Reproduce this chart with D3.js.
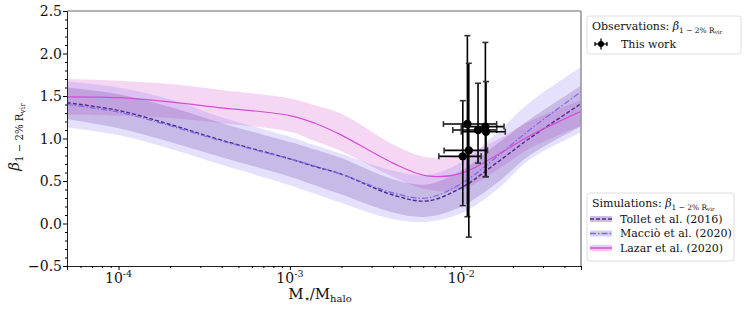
<!DOCTYPE html>
<html><head><meta charset="utf-8">
<script src="https://cdn.jsdelivr.net/npm/d3@7"></script>
<style>body{margin:0;background:#fff} text{font-family:"DejaVu Serif","Liberation Serif",serif;fill:#111}</style>
</head><body><svg id="c" width="747" height="310"></svg>
<script>
// ---- data ----
const gridX = [5e-5,1e-4,2e-4,4e-4,1e-3,1.4e-3,2e-3,4e-3,6.3e-3,1e-2,1.6e-2,2.5e-2,5e-2];
const tolletMean  = [1.42,1.33,1.165,0.98,0.76,0.67,0.58,0.335,0.265,0.42,0.71,1.00,1.41];
const tolletLow   = [1.23,1.12,0.96,0.78,0.55,0.45,0.34,0.13,0.08,0.20,0.47,0.80,1.14];
const tolletHigh  = [1.60,1.52,1.37,1.18,0.96,0.87,0.77,0.52,0.46,0.62,0.93,1.22,1.62];
const maccioMean  = [1.40,1.31,1.15,0.97,0.76,0.675,0.58,0.36,0.30,0.47,0.78,1.10,1.55];
const maccioLow   = [1.13,1.04,0.88,0.69,0.45,0.35,0.24,0.05,0.02,0.12,0.39,0.75,1.07];
const maccioHigh  = [1.67,1.60,1.46,1.25,1.02,0.92,0.82,0.62,0.57,0.72,1.06,1.42,1.84];
const lazarMean   = [1.49,1.48,1.43,1.36,1.27,1.18,1.04,0.71,0.56,0.59,0.80,1.03,1.32];
const lazarLow    = [1.28,1.27,1.24,1.18,1.08,0.97,0.85,0.55,0.40,0.40,0.62,0.88,1.15];
const lazarHigh   = [1.70,1.68,1.64,1.57,1.47,1.39,1.29,0.93,0.78,0.80,0.98,1.20,1.45];

const obsX    = [0.01086,0.01107,0.01021,0.01253,0.01383,0.01395];
const obsY    = [1.17,0.86,0.79,1.10,1.14,1.08];
const obsXLo  = [0.00787,0.00794,0.00740,0.00893,0.0100,0.0100];
const obsXHi  = [0.0161,0.01423,0.01306,0.0161,0.01778,0.01808];
const obsYLo  = [0.08,-0.16,0.21,0.71,0.55,0.55];
const obsYHi  = [2.21,1.885,1.445,1.65,2.13,1.67];

const yTicks = [-0.5,0.0,0.5,1.0,1.5,2.0,2.5];
const xTickExp = [-4,-3,-2];

// ---- layout ----
const svg = d3.select("#c");
const L=67,R=581,T=11,B=266;
const x = d3.scaleLog().domain([5e-5,5e-2]).range([L,R]);
const y = d3.scaleLinear().domain([-0.5,2.5]).range([B,T]);
const FF = "'DejaVu Serif','Liberation Serif',serif";

const defs = svg.append("defs");
defs.append("clipPath").attr("id","clip").append("rect").attr("x",L).attr("y",T).attr("width",R-L).attr("height",B-T);
const plot = svg.append("g").attr("clip-path","url(#clip)");

const series = [
  {name:"Tollet et al. (2016)", mean:tolletMean, lo:tolletLow, hi:tolletHigh, fill:"#663399", fo:0.22, stroke:"#4b2c8f", dash:"4,2", w:1.4},
  {name:"Macciò et al. (2020)", mean:maccioMean, lo:maccioLow, hi:maccioHigh, fill:"#7b68ee", fo:0.2, stroke:"#7b68ee", dash:"6,2,1.5,2", w:1.2},
  {name:"Lazar et al. (2020)", mean:lazarMean, lo:lazarLow, hi:lazarHigh, fill:"#da70d6", fo:0.28, stroke:"#d24fd4", dash:null, w:1.2}
];
const curve = d3.curveCatmullRom.alpha(0.5);
const area = d3.area().x((d,i)=>x(gridX[i])).y0(d=>y(d[0])).y1(d=>y(d[1])).curve(curve);
const line = d3.line().x((d,i)=>x(gridX[i])).y(d=>y(d)).curve(curve);

[series[2],series[1],series[0]].forEach(s=>{
  plot.append("path").attr("d",area(s.lo.map((v,i)=>[v,s.hi[i]]))).attr("fill",s.fill).attr("fill-opacity",s.fo);
});
series.forEach(s=>{
  plot.append("path").attr("d",line(s.mean)).attr("fill","none").attr("stroke",s.stroke)
    .attr("stroke-width",s.w).attr("stroke-dasharray",s.dash);
});

// error bars
const eb = svg.append("g").attr("stroke","#000").attr("stroke-width",1.6);
obsX.forEach((xv,i)=>{
  const cx=x(xv), cy=y(obsY[i]);
  eb.append("line").attr("x1",cx).attr("x2",cx).attr("y1",y(obsYLo[i])).attr("y2",y(obsYHi[i]));
  eb.append("line").attr("x1",x(obsXLo[i])).attr("x2",x(obsXHi[i])).attr("y1",cy).attr("y2",cy);
  [y(obsYLo[i]),y(obsYHi[i])].forEach(yy=>eb.append("line").attr("x1",cx-3).attr("x2",cx+3).attr("y1",yy).attr("y2",yy).attr("stroke","#333"));
  [x(obsXLo[i]),x(obsXHi[i])].forEach(xx=>eb.append("line").attr("x1",xx).attr("x2",xx).attr("y1",cy-3).attr("y2",cy+3).attr("stroke","#333"));
});
obsX.forEach((xv,i)=>svg.append("circle").attr("cx",x(xv)).attr("cy",y(obsY[i])).attr("r",4.2).attr("fill","#000"));

// spines
svg.append("line").attr("x1",L).attr("x2",R).attr("y1",T).attr("y2",T).attr("stroke","#999").attr("stroke-width",1.6);
svg.append("line").attr("x1",R).attr("x2",R).attr("y1",T).attr("y2",B).attr("stroke","#999").attr("stroke-width",1.6);

// y axis
const ga = svg.append("g").attr("transform",`translate(${L},0)`).call(d3.axisLeft(y).tickValues(yTicks).tickSize(4).tickFormat(""));
ga.select(".domain").attr("stroke","#222");
yTicks.forEach(v=>{
  svg.append("text").attr("x",L-5).attr("y",y(v)+5).attr("text-anchor","end")
    .style("font-family",FF).style("font-size","14px")
    .text(v<0?"\u2212"+Math.abs(v).toFixed(1):v.toFixed(1));
});
const yMinor = d3.range(-0.5,2.5001,0.1).filter(v=>Math.abs(Math.round(v*2)-v*2)>1e-6);
svg.append("g").attr("transform",`translate(${L},0)`).call(d3.axisLeft(y).tickValues(yMinor).tickSize(2).tickFormat(""))
  .select(".domain").remove();

// x axis
const xMajor = xTickExp.map(e=>Math.pow(10,e));
const gx = svg.append("g").attr("transform",`translate(0,${B})`).call(d3.axisBottom(x).tickValues(xMajor).tickSize(4).tickFormat(""));
gx.select(".domain").attr("stroke","#222");
const xMinor=[];
[-5,-4,-3,-2].forEach(e=>{for(let k=2;k<=9;k++){const v=k*Math.pow(10,e); if(v>=5e-5&&v<=5e-2) xMinor.push(v);}});
svg.append("g").attr("transform",`translate(0,${B})`).call(d3.axisBottom(x).tickValues(xMinor).tickSize(2).tickFormat(""))
  .select(".domain").remove();
xTickExp.forEach(e=>{
  const t=svg.append("text").attr("x",x(Math.pow(10,e))).attr("y",283).attr("text-anchor","middle")
    .style("font-family",FF).style("font-size","14px");
  t.append("tspan").text("10");
  t.append("tspan").attr("dy",-6).style("font-size","9.5px").text("-"+Math.abs(e));
});

// axis labels
const xl = svg.append("text").attr("x",320).attr("y",299).attr("text-anchor","middle").style("font-size","15px");
xl.append("tspan").text("M");
xl.append("tspan").attr("dy",3).style("font-size","10px").text("\u22c6");
xl.append("tspan").attr("dy",-3).text("/M");
xl.append("tspan").attr("dy",3).style("font-size","10px").text("halo");

function betaLabel(sel, size){
  sel.append("tspan").style("font-style","italic").style("font-size",size+"px").text("\u03b2");
  sel.append("tspan").attr("dy",size*0.25).style("font-size",(size*0.68)+"px").text("1 \u2212 2% R");
  sel.append("tspan").attr("dy",size*0.12).style("font-size",(size*0.5)+"px").text("vir");
}
const yl = svg.append("text").attr("transform","translate(19,137) rotate(-90)").attr("text-anchor","middle");
betaLabel(yl,15);

// legends
function box(x0,y0,w,h){
  svg.append("rect").attr("x",x0).attr("y",y0).attr("width",w).attr("height",h).attr("rx",2.5)
    .attr("fill","#fff").attr("fill-opacity",0.8).attr("stroke","#ddd").attr("stroke-width",1);
}
box(587,16,154,38);
const t1 = svg.append("text").attr("x",592).attr("y",30).style("font-size","11px");
t1.append("tspan").text("Observations: ");
betaLabel(t1,11);
const lm = svg.append("g").attr("stroke","#000").attr("stroke-width",1.3);
lm.append("line").attr("x1",595).attr("x2",607).attr("y1",44).attr("y2",44);
lm.append("line").attr("x1",601).attr("x2",601).attr("y1",38.5).attr("y2",49.5);
lm.append("line").attr("x1",595).attr("x2",595).attr("y1",42).attr("y2",46);
lm.append("line").attr("x1",607).attr("x2",607).attr("y1",42).attr("y2",46);
svg.append("circle").attr("cx",601).attr("cy",44).attr("r",3).attr("fill","#000");
svg.append("text").attr("x",621).attr("y",47.5).style("font-size","11px").text("This work");

box(587,193,147,68);
const t2 = svg.append("text").attr("x",592).attr("y",207).style("font-size","11px");
t2.append("tspan").text("Simulations: ");
betaLabel(t2,11);
series.forEach((s,i)=>{
  const cy = 219 + i*14.5;
  svg.append("rect").attr("x",590).attr("y",cy-3).attr("width",22).attr("height",6).attr("fill",s.fill).attr("fill-opacity",s.fo+0.1);
  svg.append("line").attr("x1",590).attr("x2",612).attr("y1",cy).attr("y2",cy).attr("stroke",s.stroke)
    .attr("stroke-width",s.w+0.3).attr("stroke-dasharray",s.dash);
  svg.append("text").attr("x",620).attr("y",cy+3.8).style("font-size","11px").text(s.name);
});
</script></body></html>
